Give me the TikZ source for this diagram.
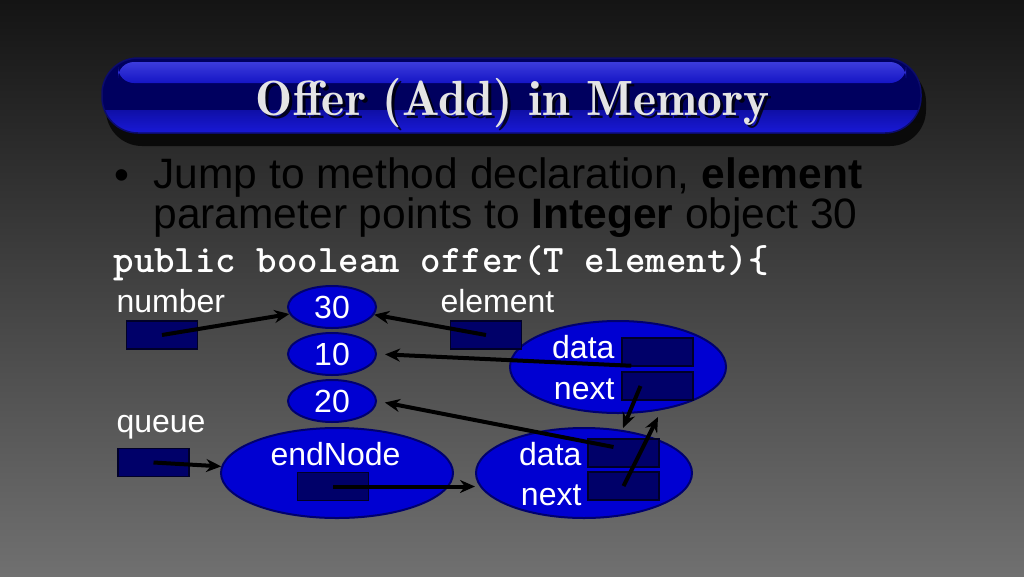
\documentclass[tikz,border=0pt]{standalone}
\usepackage{fontspec}
\usetikzlibrary{arrows.meta, calc, positioning, shapes.geometric}
\newfontfamily\sansfam{Liberation Sans}
\newfontfamily\ttlfam{lmromandemi10-regular}[Extension=.otf]
\newcommand\lblfont{\sansfam\fontsize{32}{38}\selectfont}
\newcommand\bulfont{\sansfam\fontsize{42.5}{46}\selectfont}
\newcommand\codefont{\ttfamily\bfseries\fontsize{39}{44}\selectfont}
\newcommand\ttlfont{\ttlfam\fontsize{49.5}{56}\selectfont}
\definecolor{bgtop}{RGB}{20,20,20}
\definecolor{bgbottom}{RGB}{112,112,112}
\definecolor{barblue}{RGB}{25,25,215}
\definecolor{barnavy}{RGB}{0,0,95}
\definecolor{barhigh}{RGB}{60,60,220}
\definecolor{cellblue}{RGB}{0,0,210}
\definecolor{celledge}{RGB}{0,0,110}
\definecolor{ptrfill}{RGB}{0,0,105}
\definecolor{ptredge}{RGB}{0,0,40}
\definecolor{titlegray}{RGB}{228,228,228}

\begin{document}
\begin{tikzpicture}[x=1pt, y=-1pt, >=Stealth,
    ptrbox/.style={draw=ptredge, fill=ptrfill, line width=1.5pt,
        minimum width=71pt, minimum height=28pt, inner sep=0pt},
    cell/.style={ellipse, draw=celledge, fill=cellblue, line width=2pt,
        inner sep=0pt, text=white, font=\lblfont},
    lbl/.style={anchor=base west, text=white, font=\lblfont},
    tag/.style={anchor=base east, text=white, font=\lblfont},
    ptr/.style={-{Stealth[length=15pt, width=13pt]}, line width=4pt, black}]

    % Background
    \shade[top color=bgtop, bottom color=bgbottom] (0,0) rectangle (1024,576);
    \useasboundingbox (0,0) rectangle (1024,576);

    % Title bar
    \fill[black, opacity=0.75, rounded corners=36pt] (106,66) rectangle (926,146);
    \begin{scope}
        \clip[rounded corners=36pt] (102,58) rectangle (921,133);
        \fill[barnavy] (102,58) rectangle (921,133);
        \shade[top color=barblue!60!barnavy, bottom color=barblue] (102,110) rectangle (921,133);
    \end{scope}
    \shade[top color=barhigh, bottom color=barblue!85!barnavy, rounded corners=16pt] (118,62) rectangle (906,83);
    \draw[barblue!50!black, line width=1.5pt, rounded corners=36pt] (102,58) rectangle (921,133);
    \node[anchor=base, font=\ttlfont, text=black, opacity=0.8] at (516,118) {Offer (Add) in Memory};
    \node[anchor=base, font=\ttlfont, text=titlegray] (title) at (513,115) {Offer (Add) in Memory};

    % Bullet and code
    \node[anchor=base, font=\bulfont] (dot) at (122,189) {\textbullet};
    \node[anchor=base west, font=\bulfont] (line1) at (150,188) {Jump to method declaration, \textbf{element}};
    \node[anchor=base west, font=\bulfont] (line2) at (150,228) {parameter points to \textbf{Integer} object 30};
    \node[lbl, font=\codefont] (code) at (110,272) {public boolean offer(T element)\{};

    % Labels
    \node[lbl] (numlbl) at (113,312) {number};
    \node[lbl] (elemlbl) at (437,312) {element};
    \node[lbl] (queuelbl) at (113,432) {queue};

    % Integer objects
    \node[cell, minimum width=88pt, minimum height=42pt] (v30) at (332,307) {30};
    \node[cell, minimum width=88pt, minimum height=42pt] (v10) at (332,354) {10};
    \node[cell, minimum width=88pt, minimum height=42pt] (v20) at (332,401) {20};

    % Queue nodes
    \node[cell, minimum width=232pt, minimum height=90pt] (endell) at (337,473) {};
    \node[lbl] (endlbl) at (267,465) {endNode};
    \node[cell, minimum width=216pt, minimum height=92pt] (topnode) at (618,367) {};
    \node[cell, minimum width=216pt, minimum height=90pt] (botnode) at (584,473) {};
    \node[tag] (topdatalbl) at (618,358) {data};
    \node[tag] (topnextlbl) at (618,399) {next};
    \node[tag] (botdatalbl) at (585,465) {data};
    \node[tag] (botnextlbl) at (585,505) {next};

    % Reference boxes
    \node[ptrbox] (numbox) at (162,335) {};
    \node[ptrbox] (elembox) at (486,335) {};
    \node[ptrbox] (queuebox) at (153.5,462.5) {};
    \node[ptrbox] (endbox) at (333,486.5) {};
    \node[ptrbox] (topdata) at (657.5,352) {};
    \node[ptrbox] (topnext) at (657.5,386) {};
    \node[ptrbox] (botdata) at (623.5,453) {};
    \node[ptrbox] (botnext) at (623.5,486) {};

    % Pointers
    \coordinate (botnodetop) at (623,428);
    \coordinate (topnodebot) at (658,417);
    \draw[ptr] (numbox.center) -- (v30);
    \draw[ptr] (elembox.center) -- (v30);
    \draw[ptr, shorten >=8pt] ($(topdata.south west)+(10,-1)$) -- (v10.east);
    \draw[ptr, shorten >=8pt] ($(botdata.center)+(-10,-6)$) -- (v20.east);
    \draw[ptr] (queuebox.center) -- (endell);
    \draw[ptr] (endbox.center) -- (endbox.center -| botnode.west);
    \draw[ptr] ($(topnext.center)+(-17,0)$) -- (botnodetop);
    \draw[ptr] (botnext.center) -- (topnodebot);
\end{tikzpicture}
\end{document}
